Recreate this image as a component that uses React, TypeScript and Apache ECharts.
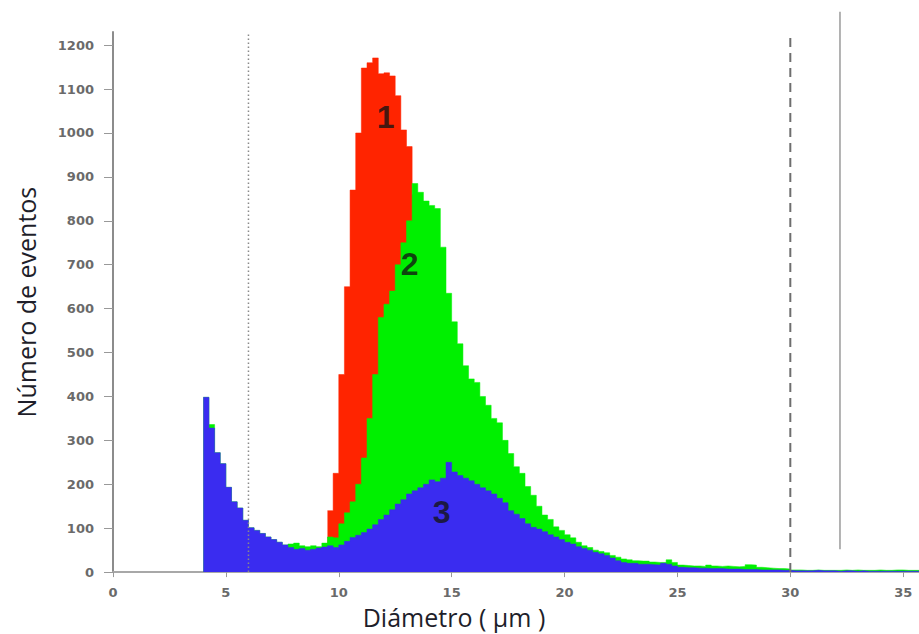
import React, { useEffect, useRef } from "react";
import * as echarts from "echarts";

// Histogram bins (diameter in µm), bin width 0.25
const BIN_WIDTH = 0.25;

const blueStart = 4.0;
const blueCounts = [
  398, 328, 272, 247, 193, 160, 146, 118, 101, 95, 88, 80, 74, 68, 62, 56,
  52, 54, 50, 52, 55, 57, 60, 56, 62, 70, 79, 84, 90, 98, 108, 120,
  130, 142, 155, 165, 178, 185, 192, 200, 210, 206, 214, 250, 228, 220, 214, 208,
  200, 192, 185, 178, 168, 158, 140, 132, 122, 110, 102, 98, 92, 85, 80, 74,
  68, 64, 58, 54, 50, 45, 42, 38, 32, 26, 22, 20, 20, 18, 18, 17,
  16, 20, 18, 14, 11, 10, 10, 9, 9, 8, 8, 8, 7, 7, 7, 6,
  6, 6, 5, 5, 5, 5, 4, 4, 3, 3, 3, 3, 4, 3, 3, 3,
  2, 3, 3, 2, 3, 2, 2, 2, 2, 2, 2, 2, 2, 2, 2,
];

const greenStart = 4.0;
const greenCounts = [
  398, 336, 272, 247, 193, 160, 146, 118, 101, 95, 88, 80, 74, 68, 62, 64,
  66, 60, 58, 60, 58, 66, 80, 78, 110, 135, 160, 200, 260, 350, 450, 580,
  610, 640, 700, 750, 800, 885, 865, 845, 835, 828, 740, 635, 570, 520, 470, 440,
  432, 400, 380, 350, 340, 300, 270, 240, 225, 195, 175, 150, 130, 120, 103, 95,
  85, 78, 68, 60, 56, 50, 47, 44, 38, 34, 30, 28, 26, 25, 25, 23,
  22, 22, 28, 22, 16, 15, 14, 14, 13, 16, 14, 13, 14, 13, 12, 13,
  17, 16, 11, 10, 9, 8, 8, 7, 5, 5, 4, 4, 5, 4, 4, 4,
  4, 5, 4, 5, 4, 4, 4, 5, 4, 4, 5, 5, 4, 4, 4,
];

const redStart = 9.5;
const redCounts = [
  140, 225, 450, 650, 870, 1000, 1148, 1160, 1171, 1135, 1137, 1130, 1085, 1007, 969, 860,
  700, 550, 400, 250, 150, 100,
];

const xTicks = [0, 5, 10, 15, 20, 25, 30, 35];
const yTicks = [0, 100, 200, 300, 400, 500, 600, 700, 800, 900, 1000, 1100, 1200];
const X_MAX = 35.7;
const Y_MAX = 1230;

const peakLabelX = [12.08, 13.14, 14.56];
const peakLabelY = [1036, 701, 137];
const peakLabelText = ["1", "2", "3"];

const refLineX = [6, 30, 32.2];
const refLineBottom = [0, 0, 52];
const refLineTop = [1230, 1230, 1276];
const refLineKind = ["dotted", "dashed", "solid"];

const seriesColors = { red: "#ff2400", green: "#00f000", blue: "#3a2cf0" };

function toSteps(start: number, counts: number[]) {
  const pts = counts.map((c, i) => [start + i * BIN_WIDTH, c]);
  pts.push([start + counts.length * BIN_WIDTH, counts[counts.length - 1]]);
  return pts;
}

function histSeries(name: string, start: number, counts: number[], color: string, z: number) {
  return {
    name,
    type: "line",
    step: "end",
    symbol: "none",
    z,
    data: toSteps(start, counts),
    lineStyle: { color, width: 0.5 },
    areaStyle: { color, opacity: 1 },
    itemStyle: { color },
    silent: true,
  };
}

export default function App() {
  const ref = useRef<HTMLDivElement>(null);
  useEffect(() => {
    if (!ref.current) return;
    const chart = echarts.init(ref.current, null, { renderer: "svg" });
    const labelStyle = {
      fontFamily: "DejaVu Sans",
      fontWeight: "bold",
      fontSize: 13,
      color: "#6a6a6a",
    };
    chart.setOption({
      animation: false,
      backgroundColor: "#ffffff",
      grid: { left: 113, right: 0, top: 32, bottom: 56, containLabel: false },
      xAxis: [
        {
          type: "value",
          min: 0,
          max: X_MAX,
          interval: 5,
          name: "Diámetro ( µm )",
          nameLocation: "middle",
          nameGap: 26,
          nameTextStyle: {
            fontFamily: "Open Sans",
            fontSize: 25,
            color: "#1e1e2a",
            padding: [0, 124, 0, 0],
          },
          axisLine: { show: true, onZero: false, lineStyle: { color: "#999", width: 1.5 } },
          axisTick: { show: true, length: 5, lineStyle: { color: "#999" } },
          axisLabel: {
            ...labelStyle,
            margin: 14,
            showMaxLabel: false,
            formatter: (v: number) => (xTicks.includes(v) ? String(v) : ""),
          },
          splitLine: { show: false },
        },
        {
          type: "value",
          position: "top",
          min: 0,
          max: X_MAX,
          interval: 5,
          axisLine: { show: true, lineStyle: { color: "#a8a8a8", width: 2 } },
          axisTick: { show: false },
          axisLabel: { show: false },
          splitLine: { show: false },
        },
      ],
      yAxis: {
        type: "value",
        min: 0,
        max: Y_MAX,
        interval: 100,
        name: "Número de eventos",
        nameLocation: "middle",
        nameRotate: 90,
        nameGap: 75,
        nameTextStyle: { fontFamily: "Open Sans", fontSize: 25, color: "#1e1e2a" },
        axisLine: { show: true, lineStyle: { color: "#8c8c8c", width: 2 } },
        axisTick: { show: true, length: 9, lineStyle: { color: "#999" } },
        axisLabel: {
          ...labelStyle,
          margin: 19,
          showMaxLabel: false,
          formatter: (v: number) => (yTicks.includes(v) ? String(v) : ""),
        },
        splitLine: { show: false },
      },
      series: [
        histSeries("1", redStart, redCounts, seriesColors.red, 2),
        histSeries("2", greenStart, greenCounts, seriesColors.green, 3),
        histSeries("3", blueStart, blueCounts, seriesColors.blue, 4),
        {
          type: "custom",
          clip: false,
          silent: true,
          z: 10,
          data: refLineX.map((x, i) => [x, refLineBottom[i], refLineTop[i]]),
          encode: { x: 0, y: [1, 2] },
          renderItem: (params: any, api: any) => {
            const x = api.value(0);
            const p0 = api.coord([x, api.value(1)]);
            const p1 = api.coord([x, api.value(2)]);
            const kind = refLineKind[params.dataIndex];
            const style: any =
              kind === "dotted"
                ? { stroke: "#8a8a8a", lineWidth: 1.5, lineDash: [1.5, 2.5] }
                : kind === "dashed"
                ? { stroke: "#6e6e6e", lineWidth: 2, lineDash: [9, 6] }
                : { stroke: "#9a9a9a", lineWidth: 1.5 };
            return {
              type: "line",
              shape: { x1: p0[0], y1: p0[1], x2: p1[0], y2: p1[1] },
              style,
            };
          },
        },
        {
          type: "scatter",
          symbolSize: 0,
          silent: true,
          z: 20,
          data: peakLabelX.map((x, i) => ({
            value: [x, peakLabelY[i]],
            label: { formatter: peakLabelText[i] },
          })),
          label: {
            show: true,
            position: "inside",
            fontFamily: "Liberation Sans",
            fontWeight: "bold",
            fontSize: 32,
            color: "#141414",
          },
        },
      ],
    });
    return () => chart.dispose();
  }, []);
  return (
    <div
      ref={ref}
      style={{ position: "fixed", left: 0, top: 0, width: 919, height: 634 }}
    />
  );
}
